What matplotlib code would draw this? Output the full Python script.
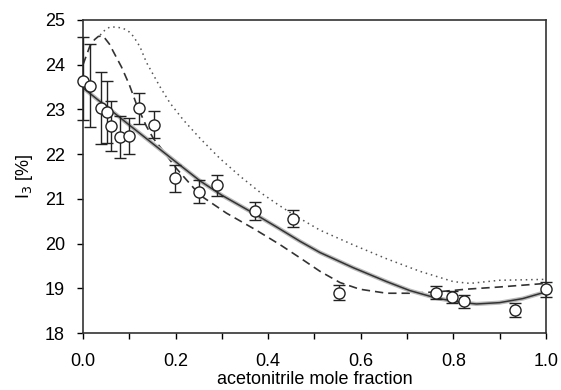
#!/usr/bin/env python

import numpy as np
import matplotlib
matplotlib.use('Agg')
import matplotlib.pyplot as plt

# measured I3 values with error bars
x_data = [0.0, 0.015, 0.038, 0.051, 0.060, 0.080, 0.100, 0.120, 0.153, 0.199,
          0.251, 0.289, 0.371, 0.454, 0.553, 0.762, 0.797, 0.824, 0.933, 1.0]
y_data = [23.64, 23.52, 23.03, 22.94, 22.63, 22.38, 22.40, 23.03, 22.65, 21.46,
          21.16, 21.31, 20.73, 20.56, 18.90, 18.90, 18.81, 18.71, 18.51, 18.99]
y_hi = [24.62, 24.46, 23.84, 23.64, 23.19, 22.85, 22.81, 23.37, 22.96, 21.76,
        21.42, 21.53, 20.94, 20.75, 19.07, 19.05, 18.94, 18.85, 18.67, 19.15]
y_lo = [22.76, 22.60, 22.23, 22.25, 22.07, 21.91, 22.00, 22.67, 22.36, 21.16,
        20.90, 21.07, 20.53, 20.37, 18.74, 18.76, 18.67, 18.56, 18.36, 18.81]

# model curves
solid_x = [0.0, 0.1, 0.2, 0.253, 0.3, 0.368, 0.42, 0.469, 0.512, 0.584, 0.656,
           0.706, 0.764, 0.814, 0.85, 0.9, 0.95, 1.0]
solid_y = [23.48, 22.65, 21.83, 21.40, 21.08, 20.68, 20.36, 20.05, 19.80, 19.46, 19.15,
           18.95, 18.78, 18.69, 18.65, 18.68, 18.77, 18.92]

dash_x = [0.0, 0.015, 0.025, 0.033, 0.042, 0.048, 0.057, 0.065, 0.083, 0.1, 0.116, 0.137,
          0.152, 0.177, 0.2, 0.253, 0.31, 0.371, 0.425, 0.469, 0.512, 0.555, 0.598,
          0.656, 0.706, 0.764, 0.828, 0.9, 1.0]
dash_y = [24.00, 24.42, 24.56, 24.63, 24.64, 24.58, 24.46, 24.30, 23.95, 23.55, 23.10, 22.62,
          22.35, 22.02, 21.70, 21.08, 20.68, 20.32, 19.98, 19.68, 19.38, 19.13, 18.98,
          18.89, 18.89, 18.92, 18.98, 19.03, 19.11]

dot_x = [0.037, 0.048, 0.058, 0.072, 0.087, 0.1, 0.109, 0.123, 0.137, 0.166, 0.188,
         0.217, 0.253, 0.296, 0.34, 0.382, 0.42, 0.454, 0.512, 0.584, 0.656, 0.728, 0.8,
         0.836, 0.9, 1.0]
dot_y = [24.66, 24.78, 24.84, 24.84, 24.81, 24.73, 24.63, 24.40, 24.05, 23.51, 23.14,
         22.76, 22.35, 21.90, 21.50, 21.15, 20.88, 20.65, 20.30, 19.97, 19.66, 19.38, 19.15,
         19.11, 19.18, 19.20]

plt.rcParams["font.family"] = "Liberation Sans"
plt.rcParams["font.size"] = 13

fig = plt.figure(figsize=(5.61, 3.90), dpi=100)
ax = fig.add_axes([0.148, 0.146, 0.825, 0.803])

ax.plot(dot_x, dot_y, color='#555555', linestyle=(0, (1, 2.5)), linewidth=1.1)
ax.plot(dash_x, dash_y, color='#333333', linestyle=(0, (5, 3)), linewidth=1.2)
ax.plot(solid_x, solid_y, color='#bbbbbb', linewidth=3.0)
ax.plot(solid_x, solid_y, color='#333333', linewidth=1.1)

yerr = [np.array(y_data) - np.array(y_lo), np.array(y_hi) - np.array(y_data)]
ax.errorbar(x_data, y_data, yerr=yerr, fmt='o', mfc='white', mec='#222222',
            ecolor='#222222', ms=8, mew=1.0, elinewidth=1.0, capsize=4, capthick=1.0,
            clip_on=False, zorder=5)

ax.set_xlim(0, 1)
ax.set_ylim(18, 25)
ax.set_xticks(np.arange(0, 1.01, 0.2))
ax.set_xticks(np.arange(0.1, 1.0, 0.2), minor=True)
ax.set_yticks(range(18, 26))
ax.xaxis.set_major_formatter(matplotlib.ticker.FormatStrFormatter('%.1f'))
ax.tick_params(axis='both', which='both', direction='out', length=4, width=1)
ax.tick_params(axis='x', which='major', pad=10)
ax.tick_params(axis='y', which='major', pad=9)
for sp in ax.spines.values():
    sp.set_linewidth(1.2)
    sp.set_color('#333333')

ax.set_xlabel('acetonitrile mole fraction', labelpad=1)
ax.set_ylabel(r'I$_3$ [%]', labelpad=7)

fig.savefig('out.png', dpi=100)
